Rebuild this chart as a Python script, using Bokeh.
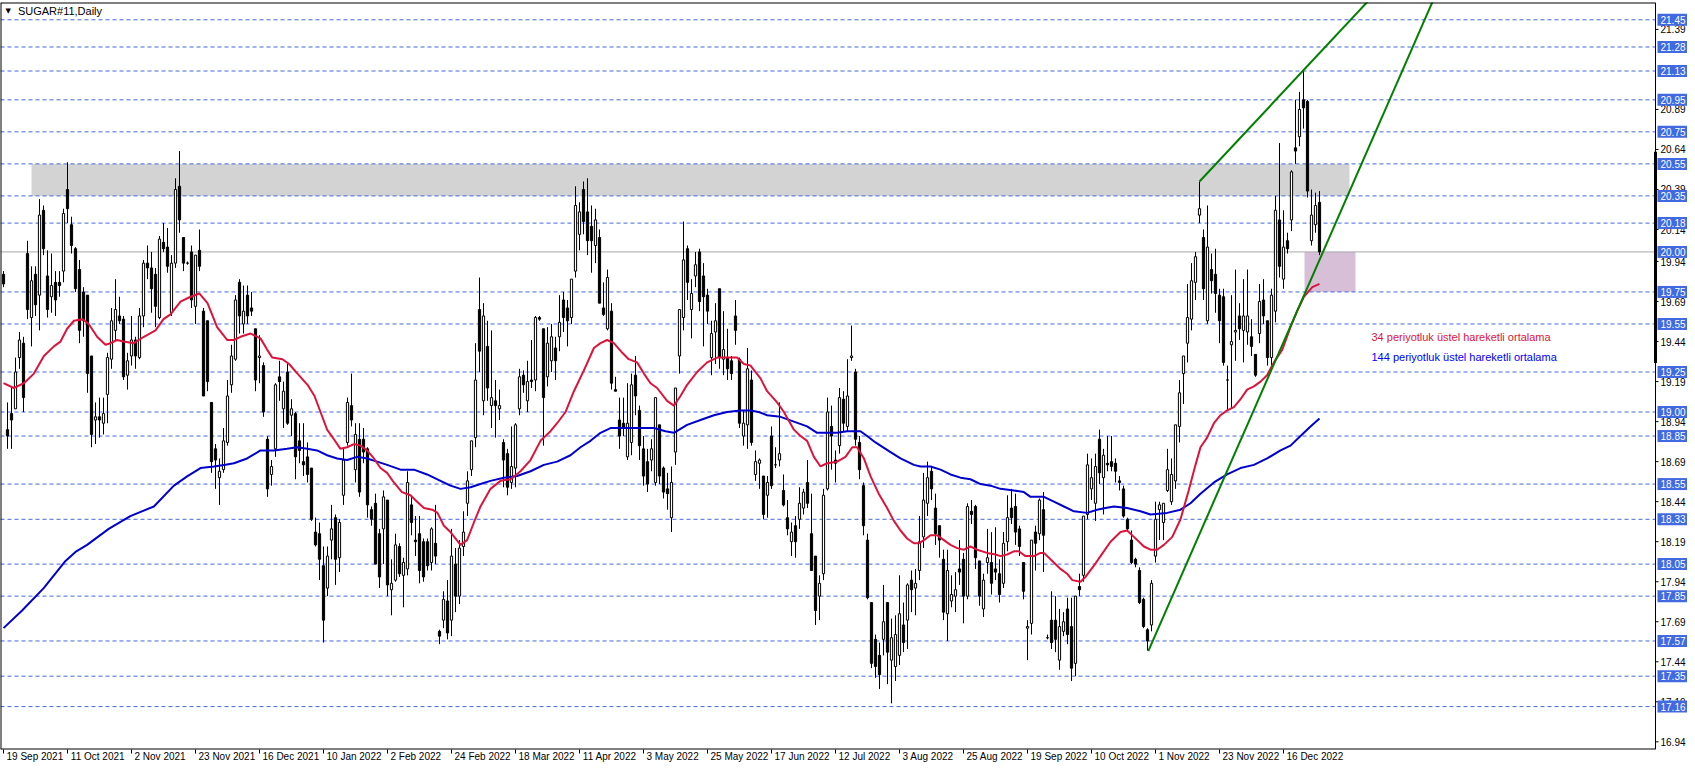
from bokeh.plotting import figure
from bokeh.models import ColumnDataSource, Range1d, FixedTicker, LinearAxis
from bokeh.core.properties import value
from bokeh.embed import file_html
from bokeh.resources import INLINE

# ---------------- data ----------------
opens = [19.86, 18.89, 18.99, 19.02, 19.34, 19.43, 19.99, 19.59, 19.86, 19.73,
         20.26, 19.85, 19.72, 19.81, 19.81, 19.88, 20.39, 20.17, 20.02, 19.89,
         19.75, 19.73, 19.35, 18.95, 18.97, 18.93, 19.11, 19.33, 19.51, 19.60,
         19.58, 19.23, 19.35, 19.45, 19.34, 19.60, 19.93, 19.90, 19.86, 19.59,
         20.06, 20.03, 19.62, 19.93, 20.41, 20.09, 19.93, 20.00, 19.66, 20.01,
         19.63, 19.57, 19.06, 18.77, 18.59, 18.64, 18.81, 19.17, 19.33, 19.81,
         19.55, 19.73, 19.65, 19.52, 19.34, 19.29, 18.83, 18.61, 18.77, 19.22,
         19.02, 19.25, 18.98, 18.99, 18.82, 18.69, 18.72, 18.65, 18.25, 18.24,
         18.04, 17.90, 18.20, 18.34, 18.09, 18.48, 18.81, 19.04, 18.64, 18.83,
         18.83, 18.77, 18.39, 18.43, 18.24, 18.27, 18.45, 17.89, 17.95, 18.16,
         17.98, 18.02, 18.42, 18.20, 18.24, 18.19, 18.19, 18.06, 18.18, 17.63,
         17.70, 17.82, 17.70, 18.05, 17.85, 18.16, 18.43, 18.64, 18.84, 19.64,
         19.07, 19.41, 19.04, 19.07, 19.02, 18.81, 18.74, 18.56, 18.65, 19.02,
         19.23, 19.07, 19.20, 19.20, 19.59, 19.52, 19.22, 19.32, 19.40, 19.47,
         19.70, 19.65, 19.59, 19.88, 20.11, 20.39, 20.25, 20.16, 20.04, 20.09,
         19.65, 19.52, 19.63, 19.14, 18.95, 18.93, 18.72, 18.81, 19.23, 19.01,
         18.77, 18.69, 18.70, 18.56, 18.92, 18.65, 18.52, 18.34, 18.75, 19.35,
         19.59, 20.02, 19.64, 19.85, 20.00, 19.85, 19.73, 19.34, 19.50, 19.77,
         19.33, 19.34, 19.32, 19.60, 19.33, 18.85, 18.92, 19.20, 18.61, 18.68,
         18.60, 18.48, 18.85, 18.67, 18.70, 18.51, 18.34, 18.19, 18.29, 18.33,
         18.40, 18.56, 18.24, 18.10, 17.85, 17.99, 18.52, 18.91, 18.70, 18.79,
         19.08, 18.91, 19.34, 19.25, 18.81, 18.54, 18.20, 17.81, 17.58, 17.48,
         17.58, 17.81, 17.45, 17.41, 17.48, 17.67, 17.70, 17.95, 17.90, 18.01,
         18.22, 18.43, 18.63, 18.40, 18.29, 18.08, 17.74, 17.82, 17.85, 18.02,
         18.08, 17.85, 18.38, 18.41, 18.07, 17.77, 18.06, 18.06, 18.02, 17.99,
         17.93, 18.19, 18.40, 18.41, 18.27, 18.06, 17.65, 17.68, 18.25, 18.24,
         18.39, 17.59, 17.70, 17.70, 17.45, 17.63, 17.77, 17.66, 17.43, 17.91,
         17.98, 18.36, 18.52, 18.43, 18.83, 18.59, 18.68, 18.69, 18.68, 18.57,
         18.52, 18.33, 18.20, 18.08, 18.01, 17.83, 17.64, 17.67, 18.10, 18.39,
         18.31, 18.51, 18.44, 18.57, 18.91, 19.24, 19.43, 19.58, 19.81, 20.23,
         20.09, 19.57, 19.89, 19.86, 19.73, 19.72, 19.20, 19.42, 19.50, 19.60,
         19.51, 19.50, 19.47, 19.36, 19.49, 19.70, 19.57, 19.34, 19.63, 20.20,
         19.83, 20.07, 20.20, 20.65, 20.72, 20.95, 20.94, 20.07, 20.17, 20.31]
highs = [19.88, 19.06, 19.16, 19.34, 19.50, 19.47, 20.07, 19.91, 19.91, 20.33,
         20.29, 20.01, 19.99, 19.88, 19.88, 20.27, 20.56, 20.22, 20.03, 19.95,
         19.78, 19.73, 19.35, 19.06, 19.09, 19.09, 19.37, 19.65, 19.83, 19.72,
         19.60, 19.37, 19.60, 19.47, 19.65, 19.95, 20.04, 20.00, 19.90, 20.10,
         20.18, 20.15, 19.98, 20.46, 20.63, 20.09, 19.94, 20.04, 19.98, 20.14,
         19.65, 19.57, 19.06, 18.80, 18.71, 18.90, 19.20, 19.42, 19.73, 19.83,
         19.79, 19.79, 19.75, 19.52, 19.48, 19.31, 18.85, 18.70, 19.18, 19.32,
         19.19, 19.31, 19.08, 19.00, 18.93, 18.93, 18.81, 18.65, 18.34, 18.31,
         18.16, 18.16, 18.42, 18.36, 18.33, 18.77, 19.09, 19.24, 18.93, 18.93,
         18.90, 18.78, 18.41, 18.49, 18.27, 18.51, 18.45, 18.08, 18.24, 18.18,
         18.09, 18.63, 18.47, 18.35, 18.35, 18.21, 18.21, 18.28, 18.42, 17.64,
         17.88, 17.95, 18.27, 18.15, 18.20, 18.38, 18.63, 18.82, 19.43, 19.84,
         19.68, 19.57, 19.51, 19.20, 19.14, 18.83, 18.77, 18.91, 18.93, 19.27,
         19.26, 19.32, 19.45, 19.60, 19.60, 19.52, 19.53, 19.55, 19.47, 19.73,
         19.75, 19.70, 19.83, 20.41, 20.31, 20.44, 20.46, 20.29, 20.27, 20.14,
         19.81, 19.89, 19.68, 19.22, 19.09, 19.09, 19.18, 19.24, 19.35, 19.04,
         18.85, 18.77, 18.83, 19.09, 18.92, 18.66, 18.62, 18.66, 19.15, 19.64,
         20.19, 20.04, 19.83, 20.00, 20.02, 19.93, 19.77, 19.57, 19.68, 19.77,
         19.63, 19.52, 19.35, 19.70, 19.34, 19.01, 19.40, 19.26, 18.76, 18.71,
         18.60, 18.60, 18.91, 18.78, 19.06, 18.61, 18.45, 18.31, 18.35, 18.53,
         18.52, 18.70, 18.49, 18.10, 17.98, 18.52, 19.09, 19.04, 18.76, 19.15,
         19.13, 19.33, 19.54, 19.27, 18.85, 18.56, 18.24, 17.81, 17.61, 17.56,
         17.92, 17.81, 17.71, 17.73, 17.98, 17.81, 17.93, 18.01, 18.02, 18.35,
         18.62, 18.69, 18.66, 18.49, 18.29, 18.14, 18.14, 17.98, 18.00, 18.20,
         18.12, 18.43, 18.45, 18.42, 18.07, 17.99, 18.27, 18.25, 18.28, 18.08,
         18.25, 18.48, 18.52, 18.49, 18.29, 18.06, 17.70, 18.20, 18.29, 18.46,
         18.50, 17.61, 17.88, 17.85, 17.77, 17.75, 17.84, 17.84, 17.85, 17.99,
         18.35, 18.74, 18.71, 18.74, 18.89, 18.77, 18.85, 18.85, 18.71, 18.60,
         18.54, 18.34, 18.26, 18.09, 18.03, 17.84, 17.65, 17.95, 18.44, 18.44,
         18.43, 18.77, 18.71, 18.92, 19.20, 19.35, 19.80, 19.93, 20.00, 20.44,
         20.14, 20.29, 19.99, 20.02, 19.77, 19.77, 19.29, 19.73, 19.89, 19.68,
         19.83, 19.89, 19.58, 19.36, 19.80, 19.83, 19.57, 19.77, 20.35, 20.68,
         20.26, 20.12, 20.51, 20.95, 21.00, 21.14, 20.95, 20.39, 20.37, 20.38]
lows = [19.78, 18.77, 18.77, 19.02, 19.27, 19.00, 19.58, 19.41, 19.60, 19.51,
        19.98, 19.59, 19.62, 19.60, 19.72, 19.81, 20.18, 19.99, 19.75, 19.43,
        19.47, 19.12, 18.78, 18.80, 18.84, 18.86, 18.93, 19.27, 19.45, 19.55,
        19.20, 19.14, 19.29, 19.27, 19.33, 19.53, 19.83, 19.62, 19.53, 19.58,
        20.00, 19.87, 19.60, 19.90, 20.12, 19.88, 19.92, 19.65, 19.55, 19.88,
        19.10, 19.13, 18.62, 18.52, 18.42, 18.62, 18.79, 19.12, 19.32, 19.49,
        19.49, 19.55, 19.60, 19.13, 19.18, 18.97, 18.47, 18.54, 18.72, 19.07,
        18.90, 18.92, 18.85, 18.58, 18.68, 18.60, 18.56, 18.32, 18.16, 17.95,
        17.56, 17.85, 18.08, 17.92, 18.00, 18.42, 18.79, 18.91, 18.56, 18.47,
        18.68, 18.34, 18.29, 18.05, 17.90, 18.05, 17.85, 17.73, 17.94, 17.97,
        17.78, 17.98, 18.23, 18.10, 17.93, 17.94, 18.01, 18.01, 18.05, 17.55,
        17.65, 17.58, 17.60, 17.75, 17.80, 18.10, 18.35, 18.60, 18.78, 19.25,
        18.98, 19.07, 18.90, 18.84, 18.95, 18.53, 18.48, 18.52, 18.53, 18.98,
        19.12, 19.00, 19.15, 19.13, 19.57, 18.79, 19.16, 19.25, 19.20, 19.38,
        19.50, 19.41, 19.55, 19.84, 20.01, 20.11, 19.98, 19.87, 19.93, 19.68,
        19.60, 19.51, 19.14, 19.13, 18.77, 18.85, 18.70, 18.73, 18.98, 18.70,
        18.54, 18.50, 18.63, 18.54, 18.55, 18.46, 18.39, 18.25, 18.67, 19.24,
        19.51, 19.70, 19.46, 19.78, 19.63, 19.41, 19.55, 19.23, 19.30, 19.27,
        19.23, 19.20, 19.20, 19.42, 18.90, 18.79, 18.77, 18.79, 18.57, 18.52,
        18.33, 18.34, 18.52, 18.65, 18.66, 18.41, 18.23, 18.10, 18.09, 18.27,
        18.36, 18.40, 18.01, 17.67, 17.70, 17.95, 18.51, 18.64, 18.56, 18.74,
        18.88, 18.88, 19.32, 18.79, 18.58, 18.23, 17.83, 17.40, 17.34, 17.27,
        17.48, 17.30, 17.18, 17.32, 17.42, 17.50, 17.52, 17.75, 17.73, 17.95,
        18.15, 18.35, 18.45, 18.17, 18.09, 17.70, 17.57, 17.78, 17.75, 17.92,
        17.68, 17.83, 18.30, 18.02, 17.79, 17.72, 17.99, 17.86, 17.95, 17.81,
        17.90, 18.13, 18.30, 18.17, 18.10, 17.83, 17.45, 17.61, 18.01, 18.20,
        18.00, 17.58, 17.52, 17.50, 17.39, 17.60, 17.55, 17.32, 17.35, 17.85,
        17.94, 18.33, 18.45, 18.32, 18.55, 18.36, 18.63, 18.63, 18.56, 18.51,
        18.34, 18.26, 18.05, 18.03, 17.80, 17.65, 17.51, 17.63, 18.06, 18.20,
        18.20, 18.50, 18.42, 18.52, 18.81, 19.05, 19.31, 19.51, 19.70, 20.18,
        19.70, 19.55, 19.74, 19.62, 19.43, 19.29, 19.01, 19.02, 19.32, 19.45,
        19.31, 19.42, 19.35, 19.22, 19.43, 19.55, 19.29, 19.29, 19.56, 19.84,
        19.77, 19.99, 20.13, 20.55, 20.66, 20.77, 20.34, 20.04, 20.12, 19.98]
closes = [19.80, 18.85, 18.95, 19.25, 19.45, 19.09, 19.64, 19.82, 19.67, 20.23,
          20.02, 19.64, 19.79, 19.70, 19.79, 20.24, 20.27, 20.04, 19.77, 19.51,
          19.57, 19.24, 18.86, 18.97, 18.95, 18.99, 19.34, 19.57, 19.64, 19.57,
          19.22, 19.32, 19.45, 19.35, 19.60, 19.93, 19.90, 19.77, 19.66, 20.08,
          20.02, 19.91, 19.93, 20.39, 20.20, 19.93, 19.93, 19.70, 19.98, 19.91,
          19.10, 19.19, 18.69, 18.70, 18.63, 18.82, 19.10, 19.35, 19.70, 19.60,
          19.63, 19.60, 19.63, 19.20, 19.35, 19.00, 18.52, 18.66, 19.17, 19.19,
          19.13, 18.93, 19.02, 18.72, 18.76, 18.67, 18.61, 18.33, 18.17, 18.08,
          17.70, 18.10, 18.27, 18.08, 18.31, 18.70, 19.06, 18.95, 18.86, 18.50,
          18.75, 18.42, 18.33, 18.05, 17.97, 18.47, 17.92, 17.93, 18.17, 17.99,
          18.06, 18.56, 18.31, 18.19, 18.01, 17.97, 18.04, 18.27, 18.10, 17.60,
          17.83, 17.62, 18.10, 17.85, 18.15, 18.25, 18.57, 18.82, 19.20, 19.38,
          19.60, 19.15, 19.09, 19.04, 19.04, 18.70, 18.53, 18.66, 18.92, 19.22,
          19.17, 19.19, 19.19, 19.59, 19.58, 19.09, 19.43, 19.47, 19.32, 19.56,
          19.59, 19.57, 19.83, 20.29, 20.25, 20.19, 20.07, 20.07, 20.20, 19.68,
          19.61, 19.84, 19.18, 19.13, 18.85, 18.90, 18.93, 19.17, 19.10, 18.79,
          18.60, 18.55, 18.77, 19.09, 18.60, 18.50, 18.49, 18.56, 19.15, 19.64,
          19.95, 19.81, 19.74, 19.92, 19.69, 19.72, 19.63, 19.49, 19.57, 19.34,
          19.39, 19.27, 19.24, 19.51, 18.93, 18.93, 19.27, 18.81, 18.69, 18.70,
          18.36, 18.56, 18.54, 18.67, 18.74, 18.42, 18.27, 18.25, 18.19, 18.43,
          18.50, 18.43, 18.01, 17.76, 17.93, 18.48, 19.00, 18.85, 18.68, 19.09,
          18.93, 19.10, 19.35, 18.83, 18.64, 18.29, 17.84, 17.43, 17.41, 17.36,
          17.69, 17.50, 17.59, 17.61, 17.74, 17.56, 17.92, 17.89, 17.93, 18.19,
          18.45, 18.59, 18.52, 18.24, 18.20, 17.75, 18.01, 17.86, 17.89, 18.00,
          17.85, 18.41, 18.36, 18.09, 17.85, 17.95, 18.09, 17.93, 18.00, 17.86,
          18.18, 18.34, 18.34, 18.25, 18.16, 17.88, 17.66, 18.20, 18.18, 18.45,
          18.23, 17.59, 17.56, 17.58, 17.66, 17.69, 17.61, 17.40, 17.85, 17.89,
          18.35, 18.67, 18.59, 18.66, 18.62, 18.73, 18.67, 18.66, 18.63, 18.56,
          18.35, 18.27, 18.06, 18.05, 17.81, 17.66, 17.57, 17.93, 18.33, 18.42,
          18.43, 18.64, 18.61, 18.92, 19.12, 19.35, 19.59, 19.82, 19.97, 20.27,
          19.77, 20.03, 19.82, 19.74, 19.57, 19.31, 19.20, 19.44, 19.51, 19.52,
          19.60, 19.60, 19.41, 19.23, 19.69, 19.60, 19.34, 19.73, 20.26, 19.91,
          20.03, 20.02, 20.50, 20.63, 20.89, 20.90, 20.38, 20.23, 20.29, 20.00]

date_tick_bars = [0, 16, 32, 48, 64, 80, 96, 112, 128, 144, 160,
                  176, 192, 208, 224, 240, 256, 272, 288, 304, 320]
date_labels = ["19 Sep 2021", "11 Oct 2021", "2 Nov 2021", "23 Nov 2021",
               "16 Dec 2021", "10 Jan 2022", "2 Feb 2022", "24 Feb 2022",
               "18 Mar 2022", "11 Apr 2022", "3 May 2022", "25 May 2022",
               "17 Jun 2022", "12 Jul 2022", "3 Aug 2022", "25 Aug 2022",
               "19 Sep 2022", "10 Oct 2022", "1 Nov 2022", "23 Nov 2022",
               "16 Dec 2022"]

ema34_bar = [0, 2.6, 5.1, 7.6, 10.1, 12.6, 14.25, 15.9, 17.6, 19.7, 21.3, 23.4,
             25.5, 26.75, 28.4, 30, 32.6, 35.1, 38, 40, 41.75, 44.25, 46.75, 49,
             51, 53.4, 55.9, 57.6, 59.25, 61.75, 64.25, 65.9, 67.2, 69.75, 71.4,
             73.5, 76, 77.75, 79.25, 80.9, 82.6, 84.25, 85.9, 87.6, 89.25, 90.9,
             92.6, 94.25, 95.9, 97.6, 99.6, 101.75, 103.4, 105.1, 107.2, 108.5,
             110.1, 111.75, 114.25, 115.9, 117.6, 119.25, 121.75, 124.25, 126.75,
             129.25, 131.75, 134.25, 136.75, 138.4, 140.5, 142.6, 145.1, 147.6,
             149.25, 150.9, 152.6, 154.7, 156.3, 158.4, 160.1, 161.75, 163.4,
             165.9, 167.6, 169.25, 170.9, 173.4, 175.9, 178.4, 180.9, 183.4,
             185.1, 186.75, 189.25, 190.9, 193.4, 195.1, 197.6, 199.25, 200.9,
             202.6, 204.25, 205.9, 208.4, 210.5, 212.2, 213.4, 215.1, 216.75,
             218.8, 220.9, 222.6, 224.25, 225.9, 227.6, 228.8, 230.1, 231.75,
             233.4, 235.1, 236.75, 238.4, 240.1, 241.75, 243.4, 245.9, 248,
             249.25, 250.9, 252.6, 253.8, 255.5, 257.6, 259.25, 260.1, 261.75,
             264.25, 265.9, 267.2, 269.25, 270.5, 272.6, 274.25, 276.75, 279.25,
             280.9, 282.6, 285.1, 286.75, 288.4, 290.1, 292.2, 294.25, 296.3,
             298, 299.25, 300.9, 302.6, 304.25, 305.9, 307.6, 309.25, 310.9,
             312.6, 314.25, 315.9, 317.6, 319.7, 321.75, 323.4, 325.1, 327.2,
             329]
ema34_val = [19.18, 19.15, 19.18, 19.24, 19.35, 19.41, 19.44, 19.52, 19.57, 19.58,
             19.55, 19.47, 19.42, 19.43, 19.45, 19.44, 19.43, 19.47, 19.51, 19.58,
             19.61, 19.69, 19.72, 19.74, 19.68, 19.53, 19.45, 19.45, 19.47, 19.49,
             19.46, 19.39, 19.34, 19.33, 19.30, 19.24, 19.17, 19.10, 19.00, 18.89,
             18.83, 18.77, 18.78, 18.80, 18.79, 18.76, 18.71, 18.65, 18.62, 18.56,
             18.50, 18.48, 18.44, 18.40, 18.39, 18.37, 18.29, 18.25, 18.17, 18.20,
             18.31, 18.41, 18.52, 18.57, 18.58, 18.63, 18.70, 18.82, 18.88, 18.93,
             19.00, 19.13, 19.26, 19.40, 19.43, 19.45, 19.43, 19.37, 19.33, 19.31,
             19.24, 19.18, 19.15, 19.07, 19.04, 19.10, 19.17, 19.25, 19.31, 19.34,
             19.34, 19.34, 19.30, 19.29, 19.21, 19.13, 19.06, 19.00, 18.89, 18.85,
             18.82, 18.72, 18.66, 18.68, 18.69, 18.72, 18.78, 18.78, 18.71, 18.60,
             18.49, 18.40, 18.32, 18.26, 18.21, 18.18, 18.18, 18.20, 18.23, 18.23,
             18.20, 18.17, 18.15, 18.14, 18.16, 18.14, 18.12, 18.11, 18.10, 18.11,
             18.13, 18.13, 18.10, 18.10, 18.12, 18.12, 18.08, 18.02, 17.99, 17.95,
             17.94, 17.97, 18.04, 18.10, 18.19, 18.25, 18.26, 18.22, 18.16, 18.14,
             18.14, 18.17, 18.22, 18.33, 18.51, 18.67, 18.78, 18.84, 18.93, 18.98,
             19.01, 19.03, 19.08, 19.14, 19.16, 19.19, 19.23, 19.31, 19.39, 19.53,
             19.63, 19.72, 19.78, 19.80]

ema144_bar = [0, 4.65, 10.05, 15.5, 18.2, 20.9, 26.3, 31.7, 37.6, 42.6, 46, 49.25,
              52.6, 55.5, 57.6, 60.9, 64.25, 67.6, 70.9, 73.4, 75.9, 78.4, 80.9,
              83.4, 85.9, 88.4, 90.9, 93.4, 95.9, 99.25, 102.6, 105.9, 109.25,
              111.75, 114.25, 116.75, 119.25, 121.75, 125.1, 128.4, 131.75, 135.1,
              138.4, 141.75, 144.25, 146.75, 149.25, 151.75, 155.9, 159.25, 162.6,
              165.5, 167.6, 170.9, 174.25, 177.6, 180.9, 184.25, 186.75, 188.8,
              190.9, 194.25, 197.6, 200.9, 203.4, 205.9, 208.4, 210.9, 214.25,
              215.9, 218, 221.75, 224.25, 227.6, 229.25, 231.75, 234.25, 236.75,
              239.25, 241.75, 244.25, 246.75, 249.25, 252.6, 255.1, 256.75, 260.1,
              262.6, 265.1, 267.6, 270.9, 273.4, 275.5, 277.6, 280.9, 284.25,
              286.75, 290.9, 294.25, 296.75, 299.25, 302.6, 305.9, 309.25, 312.6,
              315.9, 319.25, 321.75, 324.25, 326.75, 329]
ema144_val = [17.65, 17.76, 17.90, 18.07, 18.13, 18.17, 18.27, 18.35, 18.41, 18.54,
              18.60, 18.65, 18.66, 18.67, 18.68, 18.71, 18.76, 18.76, 18.77, 18.78,
              18.77, 18.76, 18.73, 18.71, 18.70, 18.72, 18.71, 18.69, 18.67, 18.64,
              18.64, 18.61, 18.57, 18.54, 18.52, 18.53, 18.55, 18.57, 18.59, 18.60,
              18.63, 18.67, 18.69, 18.73, 18.78, 18.82, 18.87, 18.90, 18.90, 18.90,
              18.90, 18.88, 18.87, 18.92, 18.95, 18.98, 19.00, 19.01, 19.01, 19.00,
              18.98, 18.97, 18.94, 18.91, 18.87, 18.87, 18.87, 18.88, 18.88, 18.85,
              18.81, 18.75, 18.71, 18.67, 18.66, 18.66, 18.64, 18.61, 18.59, 18.58,
              18.55, 18.54, 18.52, 18.51, 18.50, 18.47, 18.47, 18.44, 18.41, 18.38,
              18.37, 18.39, 18.40, 18.41, 18.40, 18.38, 18.36, 18.37, 18.39, 18.43,
              18.49, 18.56, 18.61, 18.65, 18.67, 18.71, 18.76, 18.79, 18.85, 18.91,
              18.96]

level_lines = [21.45, 21.28, 21.13, 20.95, 20.75, 20.55, 20.35, 20.18, 19.75,
               19.55, 19.25, 19.00, 18.85, 18.55, 18.33, 18.05, 17.85, 17.57,
               17.35, 17.16]
pivot_level = 20.00
price_ticks = [21.39, 20.89, 20.64, 20.39, 20.14, 19.94, 19.69, 19.44, 19.19,
               18.94, 18.69, 18.44, 18.19, 17.94, 17.69, 17.44, 17.19, 16.94]

zone_bars = [7, 336.5]          # grey resistance zone
zone_prices = [20.35, 20.55]
box_bars = [325.25, 338]        # purple support box
box_prices = [19.75, 20.00]
upper_trend_bars = [299, 325]
upper_trend_prices = [20.44, 21.135]
lower_trend_bars = [286.2, 331.75]
lower_trend_prices = [17.507, 20.107]
scroll_marker_prices = [19.306, 20.625]

title_text = "SUGAR#11,Daily"
ema34_text = "34 periyotluk üstel hareketli ortalama"
ema144_text = "144 periyotluk üstel hareketli ortalama"

# ---------------- geometry ----------------
FONT = "Liberation Sans"
W, H = 1687, 764
TOP, BOTTOM = 2, 13
CHART_PX = 1655                    # width of the candle area in pixels
x_lo, x_axis = -0.75, 413.0        # bar range of the candle area
PXB = CHART_PX / (x_axis - x_lo)   # pixels per bar
x_hi = x_lo + W / PXB              # frame also holds the price scale column
y_lo, y_hi = 16.892, 21.558

p = figure(width=W, height=H, x_range=Range1d(x_lo, x_hi),
           y_range=Range1d(y_lo, y_hi), output_backend="svg",
           toolbar_location=None, y_axis_location=None,
           min_border_left=0, min_border_top=TOP, min_border_right=0,
           min_border_bottom=BOTTOM, outline_line_color=None,
           background_fill_color="white", border_fill_color="white")
p.grid.visible = False

# zones
p.quad(left=[zone_bars[0]], right=[zone_bars[1]], bottom=[zone_prices[0]],
       top=[zone_prices[1]], fill_color="#D3D3D3", line_color=None)
p.quad(left=[box_bars[0]], right=[box_bars[1]], bottom=[box_prices[0]],
       top=[box_prices[1]], fill_color="#D8BFD8", line_color=None)

# horizontal levels
p.segment(x0=x_lo, y0=level_lines, x1=x_axis, y1=level_lines,
          line_color="#4169E1", line_width=1, line_dash="4 3")
p.segment(x0=[x_lo], y0=[pivot_level], x1=[x_axis], y1=[pivot_level],
          line_color="#A9A9A9", line_width=1)

# candles
n = len(opens)
bars = list(range(n))
up = [i for i in bars if closes[i] >= opens[i]]
dn = [i for i in bars if closes[i] < opens[i]]
p.segment(x0=bars, y0=lows, x1=bars, y1=highs, line_color="black", line_width=1)
up_src = ColumnDataSource(dict(x=up, top=[closes[i] for i in up],
                               bottom=[opens[i] for i in up]))
dn_src = ColumnDataSource(dict(x=dn, top=[opens[i] for i in dn],
                               bottom=[closes[i] for i in dn]))
p.vbar(x="x", top="top", bottom="bottom", width=0.55, source=up_src,
       fill_color="white", line_color="black", line_width=1)
p.vbar(x="x", top="top", bottom="bottom", width=0.55, source=dn_src,
       fill_color="black", line_color="black", line_width=1)

# moving averages
p.line(ema144_bar, ema144_val, line_color="#0000CD", line_width=2)
p.line(ema34_bar, ema34_val, line_color="#DC143C", line_width=2)

# trend lines (rays extended past the top of the chart)
def ray(bx, py, to_bar):
    slope = (py[1] - py[0]) / (bx[1] - bx[0])
    return [bx[0], to_bar], [py[0], py[1] + slope * (to_bar - bx[1])]

ux, uy = ray(upper_trend_bars, upper_trend_prices, 380)
lx, ly = ray(lower_trend_bars, lower_trend_prices, 380)
p.line(ux, uy, line_color="#008000", line_width=2)
p.line(lx, ly, line_color="#008000", line_width=2)

# frame border of the candle area (left, top, bottom) and price-scale line
p.segment(x0=[x_lo, x_lo, x_lo], y0=[y_lo, y_hi, y_lo],
          x1=[x_lo, x_axis, x_axis], y1=[y_hi, y_hi, y_lo],
          line_color="black", line_width=2)
p.segment(x0=[x_axis], y0=[y_lo], x1=[x_axis], y1=[y_hi],
          line_color="black", line_width=1)
p.segment(x0=[x_axis], y0=[scroll_marker_prices[0]], x1=[x_axis],
          y1=[scroll_marker_prices[1]], line_color="black", line_width=3)

# price scale: ticks + labels
p.segment(x0=x_axis, y0=price_ticks, x1=x_axis + 3 / PXB, y1=price_ticks,
          line_color="black", line_width=1)
p.text(x=x_axis + 5 / PXB, y=price_ticks, text=[f"{t:.2f}" for t in price_ticks],
       text_color="black", text_font=value(FONT), text_font_size="10px",
       text_baseline="middle", text_align="left")
# highlighted level labels
all_levels = level_lines + [pivot_level]
p.rect(x=x_axis + 17 / PXB, y=all_levels, width=30, height=12,
       width_units="screen", height_units="screen",
       fill_color="#4169E1", line_color=None)
p.text(x=x_axis + 5 / PXB, y=all_levels, text=[f"{v:.2f}" for v in all_levels],
       text_color="white", text_font=value(FONT), text_font_size="10px",
       text_baseline="middle", text_align="left")

# texts
p.text(x=[342], y=[19.47], text=[ema34_text], text_color="#DC143C",
       text_font=value(FONT), text_font_size="11px", text_baseline="middle")
p.text(x=[342], y=[19.345], text=[ema144_text], text_color="#0000FF",
       text_font=value(FONT), text_font_size="11px", text_baseline="middle")
p.text(x=[3.6], y=[21.505], text=[title_text], text_color="black",
       text_font=value(FONT), text_font_size="11px", text_baseline="middle")
p.text(x=[1.2], y=[21.505], text=["▼"], text_color="black",
       text_font=value("DejaVu Sans"), text_font_size="7px",
       text_baseline="middle", text_align="center")

# date axis: tick marks at the bar, label starting just right of it
CW = {" ": 278, "0": 556, "1": 556, "2": 556, "3": 556, "4": 556, "5": 556,
      "6": 556, "7": 556, "8": 556, "9": 556, "S": 667, "e": 556, "p": 556,
      "O": 778, "c": 500, "t": 278, "N": 722, "o": 556, "v": 500, "D": 722,
      "J": 500, "a": 556, "n": 556, "F": 611, "b": 556, "M": 833, "r": 333,
      "A": 667, "y": 500, "u": 556, "l": 222, "g": 556}
def text_px(s, size=10):
    return sum(CW.get(ch, 556) for ch in s) * size / 1000.0

ax = p.xaxis[0]
ax.ticker = FixedTicker(ticks=date_tick_bars)
ax.major_label_overrides = {b: "" for b in date_tick_bars}
ax.major_label_text_font_size = "0px"
ax.major_label_standoff = 0
ax.axis_line_color = None
ax.major_tick_out = 4
ax.major_tick_in = 0
ax.major_tick_line_color = "black"
ax.minor_tick_line_color = None

centers = [round(b + (3 + text_px(l) / 2) / PXB, 2)
           for b, l in zip(date_tick_bars, date_labels)]
ax2 = LinearAxis(ticker=FixedTicker(ticks=centers),
                 major_label_overrides={c: l for c, l in zip(centers, date_labels)},
                 axis_line_color=None, major_tick_line_color=None,
                 minor_tick_line_color=None, major_tick_out=0, major_tick_in=0,
                 major_label_standoff=-3, major_label_text_font=FONT,
                 major_label_text_font_size="10px",
                 major_label_text_color="black")
p.add_layout(ax2, "below")

open("out.html", "w").write(file_html(p, INLINE))
